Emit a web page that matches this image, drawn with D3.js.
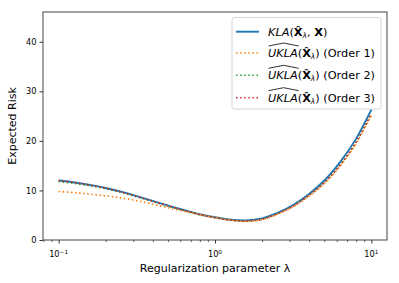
<!DOCTYPE html>
<html>
<head>
<meta charset="utf-8">
<script src="https://cdn.jsdelivr.net/npm/d3@7"></script>
<style>
  body { margin: 0; background: #fff; }
  text { font-family: "DejaVu Sans", sans-serif; }
</style>
</head>
<body>
<div id="chart"></div>
<script>
// data
var lambdas = [0.1, 0.126, 0.158, 0.2, 0.251, 0.316, 0.398, 0.501, 0.631, 0.794,
  1, 1.26, 1.58, 2, 2.51, 3.16, 3.98, 5.01, 6.31, 7.94, 10];
var kla = [12.0, 11.6, 11.1, 10.5, 9.75, 8.85, 7.9, 6.95, 6.05, 5.2,
  4.6, 4.1, 3.95, 4.35, 5.45, 7.05, 9.25, 12.0, 15.7, 20.3, 26.3];
var order1 = [9.8, 9.55, 9.25, 8.9, 8.5, 7.95, 7.25, 6.5, 5.8, 5.15,
  4.55, 4.0, 3.75, 4.1, 5.2, 6.7, 8.8, 11.4, 14.9, 19.3, 25.1];
var order2 = [11.8, 11.4, 10.95, 10.35, 9.6, 8.7, 7.8, 6.85, 5.95, 5.1,
  4.5, 4.0, 3.8, 4.2, 5.3, 6.85, 9.0, 11.6, 15.1, 19.6, 25.5];
var order3 = [12.0, 11.6, 11.1, 10.45, 9.7, 8.8, 7.85, 6.9, 6.0, 5.15,
  4.5, 4.0, 3.8, 4.2, 5.3, 6.85, 9.0, 11.6, 15.1, 19.6, 25.5];
var yTicks = [0, 10, 20, 30, 40];
var xMajor = [0.1, 1, 10];
var xMajorExp = ["\u22121", "0", "1"];
var xMinor = [0.08, 0.09, 0.2, 0.3, 0.4, 0.5, 0.6, 0.7, 0.8, 0.9, 2, 3, 4, 5, 6, 7, 8, 9];

var W = 399, H = 283;
var plotL = 43, plotR = 387, plotT = 12, plotB = 240;

var svg = d3.select("#chart").append("svg")
  .attr("width", W).attr("height", H);

var x = d3.scaleLog().domain([Math.pow(10, -1.1), Math.pow(10, 1.1)]).range([plotL, plotR]);
var y = d3.scaleLinear().domain([0, 46]).range([plotB, plotT]);

// y axis
var gy = svg.append("g").attr("transform", "translate(" + plotL + ",0)")
  .call(d3.axisLeft(y).tickValues(yTicks).tickSize(3.5).tickPadding(3));
gy.select(".domain").remove();
gy.selectAll("text").attr("font-size", 8.2).attr("font-family", "DejaVu Sans").attr("fill", "#000");
gy.selectAll("line").attr("stroke", "#333");

// x axis, major + minor
var gx = svg.append("g").attr("transform", "translate(0," + plotB + ")")
  .call(d3.axisBottom(x).tickValues(xMajor).tickSize(3.5).tickFormat(""));
gx.select(".domain").remove();
gx.selectAll("line").attr("stroke", "#333");
var gm = svg.append("g").attr("transform", "translate(0," + plotB + ")")
  .call(d3.axisBottom(x).tickValues(xMinor).tickSize(2).tickFormat(""));
gm.select(".domain").remove();
gm.selectAll("line").attr("stroke", "#333").attr("stroke-width", 0.8);

xMajor.forEach(function (v, i) {
  var t = svg.append("text")
    .attr("x", x(v)).attr("y", 257)
    .attr("text-anchor", "middle")
    .attr("font-size", 8.2);
  t.append("tspan").text("10");
  t.append("tspan").attr("font-size", 5.8).attr("dy", -3.5).text(xMajorExp[i]);
});

// curves
var line = d3.line()
  .x(function (d) { return x(d[0]); })
  .y(function (d) { return y(d[1]); })
  .curve(d3.curveCatmullRom.alpha(0.5));

function pairs(vals) { return lambdas.map(function (l, i) { return [l, vals[i]]; }); }

var series = [
  { vals: kla, color: "#1f77b4", dash: null, w: 1.9 },
  { vals: order1, color: "#ff7f0e", dash: "1.5,2.6", w: 1.6 },
  { vals: order2, color: "#2ca02c", dash: "1.5,2.6", w: 1.6 },
  { vals: order3, color: "#d62728", dash: "1.5,2.6", w: 1.6 }
];

var plot = svg.append("g");
series.forEach(function (s) {
  plot.append("path")
    .datum(pairs(s.vals))
    .attr("d", line)
    .attr("fill", "none")
    .attr("stroke", s.color)
    .attr("stroke-width", s.w)
    .attr("stroke-dasharray", s.dash);
});

// frame
svg.append("rect")
  .attr("x", plotL).attr("y", plotT)
  .attr("width", plotR - plotL).attr("height", plotB - plotT)
  .attr("fill", "none").attr("stroke", "#444").attr("stroke-width", 1);

// axis labels
svg.append("text")
  .attr("x", (plotL + plotR) / 2).attr("y", 272)
  .attr("text-anchor", "middle").attr("font-size", 11)
  .text("Regularization parameter \u03bb");
svg.append("text")
  .attr("transform", "translate(16," + ((plotT + plotB) / 2) + ") rotate(-90)")
  .attr("text-anchor", "middle").attr("font-size", 11)
  .text("Expected Risk");

// legend
var legend = svg.append("g");
legend.append("rect")
  .attr("x", 232).attr("y", 17.5).attr("width", 149).attr("height", 91.5)
  .attr("rx", 2.5)
  .attr("fill", "#fff").attr("fill-opacity", 0.8)
  .attr("stroke", "#ccc").attr("stroke-width", 0.8);

var rowsY = [31.7, 53, 75.3, 97.7];
var fs = 11.3;
series.forEach(function (s, i) {
  var ry = rowsY[i];
  legend.append("line")
    .attr("x1", 236).attr("x2", 259).attr("y1", ry).attr("y2", ry)
    .attr("stroke", s.color).attr("stroke-width", s.w)
    .attr("stroke-dasharray", s.dash);
  var t = legend.append("text")
    .attr("x", 268).attr("y", ry + 4).attr("font-size", fs);
  if (i === 0) {
    t.append("tspan").attr("font-style", "italic").text("KLA");
    t.append("tspan").text("(");
    t.append("tspan").attr("font-weight", "bold").text("X\u0302");
    t.append("tspan").attr("font-size", 7.5).attr("dy", 2).attr("font-style", "italic").text("\u03bb");
    t.append("tspan").attr("dy", -2).text(", ");
    t.append("tspan").attr("font-weight", "bold").text("X");
    t.append("tspan").text(")");
  } else {
    var u = t.append("tspan").attr("font-style", "italic").text("UKLA");
    t.append("tspan").text("(");
    t.append("tspan").attr("font-weight", "bold").text("X\u0302");
    t.append("tspan").attr("font-size", 7.5).attr("dy", 2).attr("font-style", "italic").text("\u03bb");
    t.append("tspan").attr("dy", -2).text(") (Order " + i + ")");
    var uw = u.node().getComputedTextLength();
    var x0 = 268.5, x1 = 268 + uw + 1;
    legend.append("path")
      .attr("d", "M" + x0 + "," + (ry - 7) + " L" + ((x0 + x1) / 2) + "," + (ry - 10) + " L" + x1 + "," + (ry - 7))
      .attr("fill", "none").attr("stroke", "#000").attr("stroke-width", 0.8);
  }
});
</script>
</body>
</html>
